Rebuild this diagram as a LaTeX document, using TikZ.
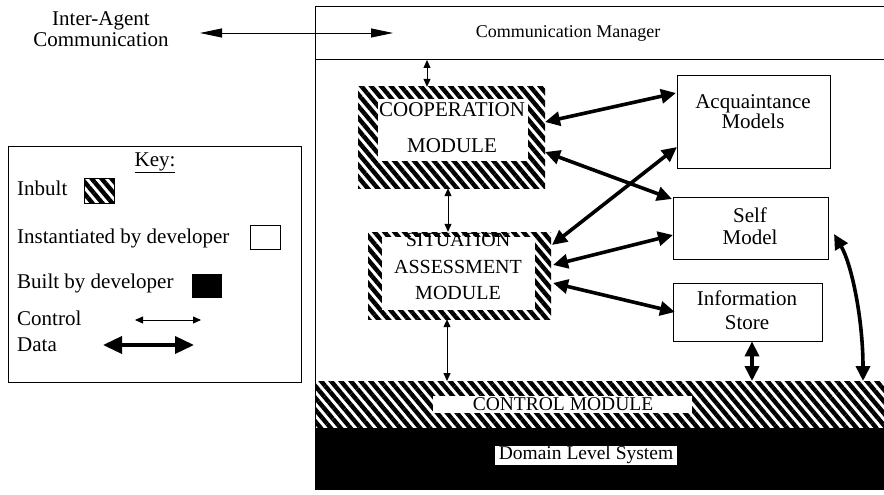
\documentclass[tikz,border=0pt]{standalone}
\usepackage{fontspec}
\setmainfont{Liberation Serif}
\usetikzlibrary{arrows.meta,patterns.meta}
\tikzset{
  hatch/.style={pattern={Lines[angle=-50,distance=7.6pt,line width=4.4pt]},pattern color=black},
  plainbox/.style={draw,line width=0.8pt,fill=white,inner sep=0pt},
  whitebox/.style={fill=white,inner sep=0pt},
  lbl/.style={font=\fontsize{21}{23}\selectfont,inner sep=0pt},
  ctrl/.style={line width=0.8pt,{Triangle[length=8pt,width=7pt]}-{Triangle[length=8pt,width=7pt]}},
  datarr/.style={line width=3.6pt,{Triangle[length=15pt,width=14pt]}-{Triangle[length=15pt,width=14pt]}},
  comm/.style={line width=0.9pt,{Triangle[length=22pt,width=9pt]}-{Triangle[length=22pt,width=9pt]}}
}
\begin{document}
\begin{tikzpicture}[x=1pt,y=-1pt]
\useasboundingbox[fill=white] (0,0) rectangle (884,495);
% outer frame
\draw[line width=1pt] (884,7) -- (315,7) -- (315,430);
\draw[line width=1pt] (315,60) -- (884,60);
\node[lbl,font=\fontsize{18}{21}\selectfont] (cm) at (568,33) {Communication Manager};
% inter-agent
\node[lbl,align=center,font=\fontsize{21}{21}\selectfont] (ia) at (101,29) {Inter-Agent\\Communication};
\coordinate (iaL) at (200,33);
\coordinate (iaR) at (393,33);
\draw[comm] (iaL) -- (iaR);
% control module and domain
\path[hatch] (315,381) rectangle (884,428);
\node[whitebox,minimum width=259pt,minimum height=17pt] (cmw) at (562.5,404.5) {};
\node[lbl,font=\fontsize{19.5}{22}\selectfont] (ctl) at (563,404) {CONTROL MODULE};
\fill[black] (315,428) rectangle (884,490);
\node[whitebox,minimum width=182pt,minimum height=19pt] (dw) at (586,455.5) {};
\node[lbl,font=\fontsize{19.5}{22}\selectfont] (dls) at (586,455) {Domain Level System};
\coordinate (ctltop1) at (447,381);
\coordinate (ctltop2) at (752,381);
\coordinate (ctltop3) at (863,381);
% cooperation module
\node[hatch,minimum width=187pt,minimum height=101pt,inner sep=0pt] (coop) at (451.5,137.5) {};
\node[whitebox,minimum width=150pt,minimum height=62pt] (coopw) at (453,130) {};
\node[lbl] (coopt1) at (452,110) {COOPERATION};
\node[lbl] (coopt2) at (452,146) {MODULE};
% situation assessment
\node[hatch,minimum width=183pt,minimum height=87pt,inner sep=0pt] (sa) at (459.5,275.5) {};
\node[whitebox,minimum width=153pt,minimum height=73pt] (saw) at (458.5,273.5) {};
\node[lbl,font=\fontsize{20}{22}\selectfont] (sat1) at (458,240) {SITUATION};
\node[lbl,font=\fontsize{20}{22}\selectfont] (sat2) at (458,267) {ASSESSMENT};
\node[lbl,font=\fontsize{20}{22}\selectfont] (sat3) at (458,293) {MODULE};
% right boxes
\node[plainbox,minimum width=153pt,minimum height=93pt] (acq) at (753.5,121.5) {};
\node[lbl,align=center,font=\fontsize{21}{20}\selectfont] (acqt) at (753,112) {Acquaintance\\Models};
\node[plainbox,minimum width=155pt,minimum height=62pt] (self) at (750.5,228) {};
\node[lbl,align=center,font=\fontsize{21}{22}\selectfont] (selft) at (750,226) {Self\\Model};
\node[plainbox,minimum width=149pt,minimum height=58pt] (info) at (747.5,312) {};
\node[lbl,align=center,font=\fontsize{21}{24}\selectfont] (infot) at (747,310) {Information\\Store};
% control arrows
\coordinate (cmbot) at (427,60);
\draw[ctrl] (cmbot) -- (coop.north -| cmbot);
\draw[ctrl] ([xshift=-3.5pt]coop.south) -- ([xshift=-11.5pt]sa.north);
\draw[ctrl] ([xshift=-12.5pt]sa.south) -- (ctltop1);
% data arrows
\coordinate (c1) at (545,122);
\coordinate (c2) at (545,152);
\coordinate (a1) at (676,93);
\coordinate (a2) at (677,147);
\coordinate (s1) at (672,199);
\coordinate (s2) at (673,235);
\coordinate (s3) at (834,234);
\coordinate (sa1) at (552,245);
\coordinate (sa2) at (553,265);
\coordinate (sa3) at (553,283);
\coordinate (i1) at (675,312);
\draw[datarr] (c1) -- (a1);
\draw[datarr] (c2) -- (s1);
\draw[datarr] (sa1) -- (a2);
\draw[datarr] (sa2) -- (s2);
\draw[datarr] (sa3) -- (i1);
\draw[datarr] (info.south -| ctltop2) -- (ctltop2);
\draw[datarr] (s3) .. controls (852,265) and (863,320) .. (ctltop3);
% key
\node[draw,line width=1pt,minimum width=293pt,minimum height=236pt,inner sep=0pt] (key) at (154.5,264) {};
\node[lbl] (keyt) at (155,163) {\underline{Key:}};
\node[lbl,anchor=west] (k1) at (17,188) {Inbult};
\node[hatch,draw,line width=0.6pt,minimum width=30pt,minimum height=25pt,inner sep=0pt] (k1b) at (99,190.5) {};
\node[lbl,anchor=west] (k2) at (17,238) {Instantiated by developer};
\node[draw,line width=0.8pt,minimum width=30pt,minimum height=24pt,inner sep=0pt] (k2b) at (265,237) {};
\node[lbl,anchor=west] (k3) at (17,283) {Built by developer};
\node[fill=black,minimum width=30pt,minimum height=24pt,inner sep=0pt] (k3b) at (207,285.5) {};
\node[lbl,anchor=west] (k4) at (17,318) {Control};
\coordinate (k4a) at (135,320);
\coordinate (k4b) at (201,320);
\draw[ctrl] (k4a) -- (k4b);
\node[lbl,anchor=west] (k5) at (17,345) {Data};
\coordinate (k5a) at (103,345);
\coordinate (k5b) at (194,345);
\draw[datarr,{Triangle[length=19pt,width=17pt]}-{Triangle[length=19pt,width=17pt]}] (k5a) -- (k5b);
\end{tikzpicture}
\end{document}
